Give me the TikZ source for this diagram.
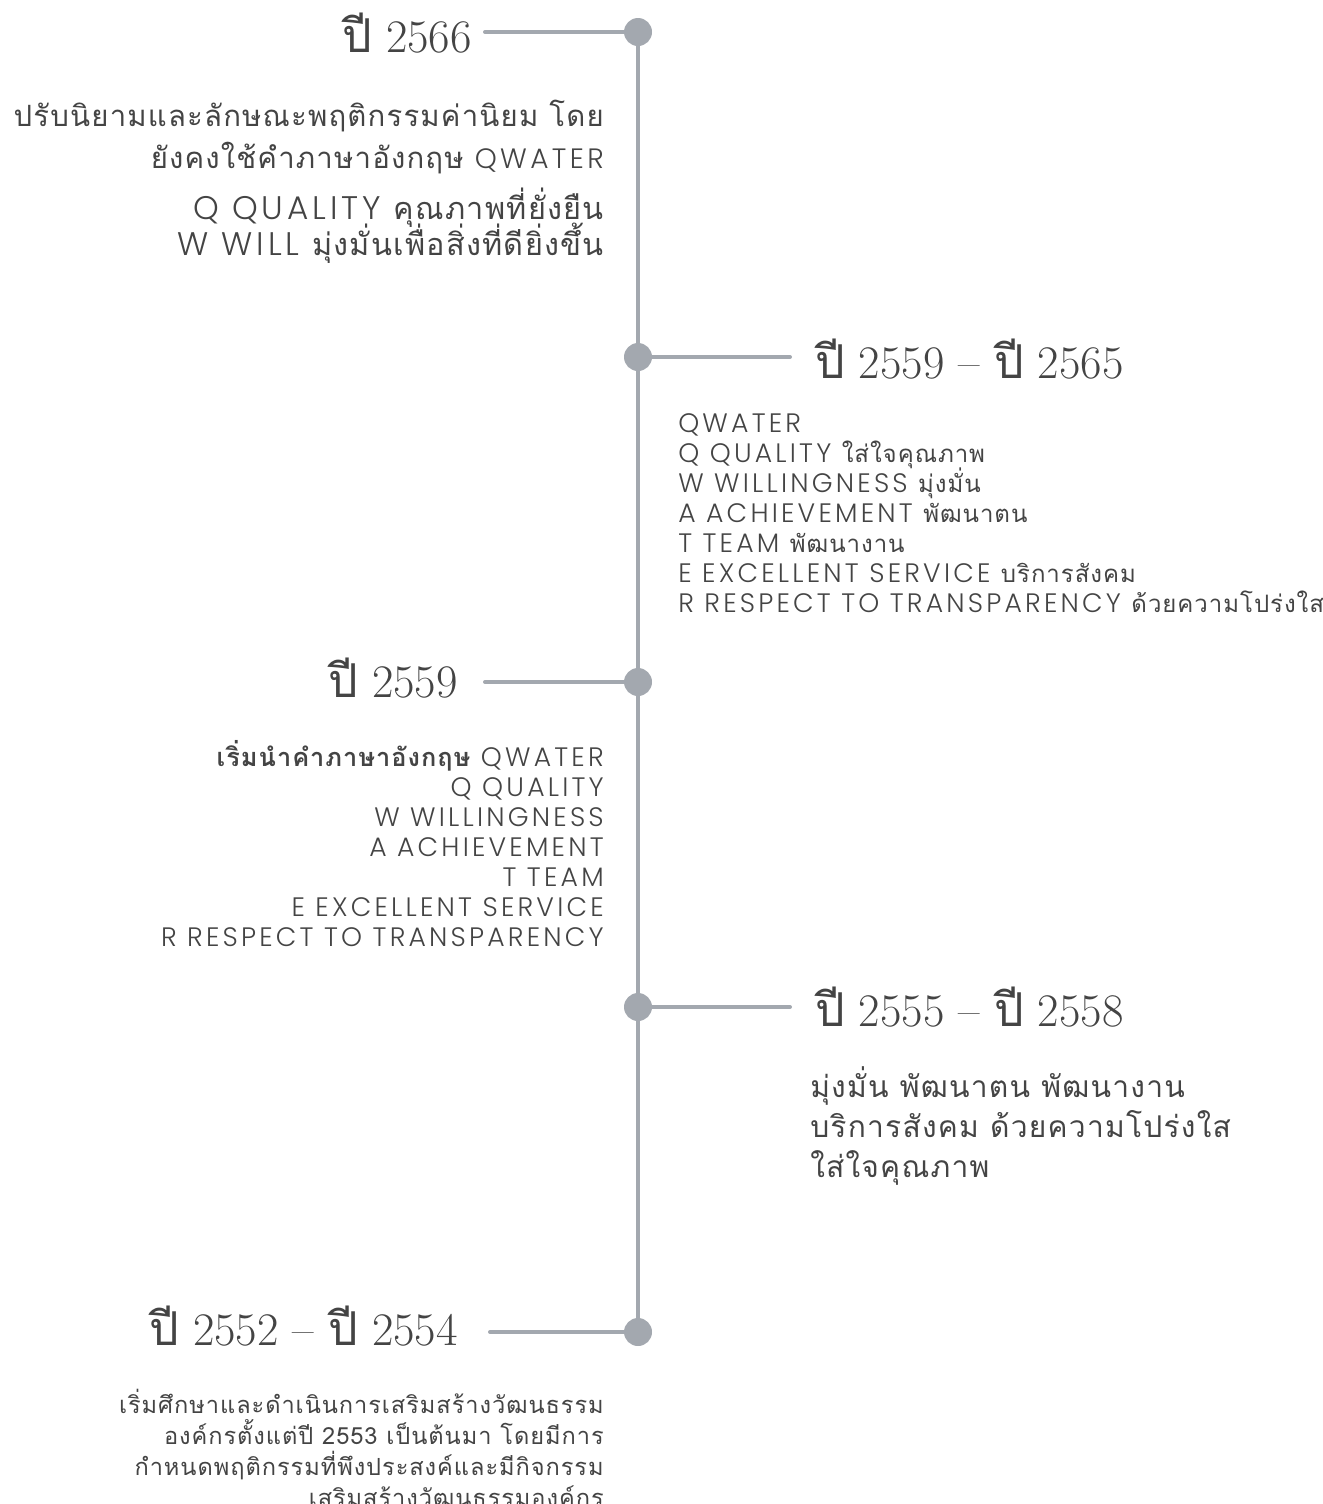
\documentclass[tikz,border=0pt]{standalone}
\usepackage{fontspec}
\newfontfamily\latbody{Poppins Light}[LetterSpace=12]
\newfontfamily\tha[Script=Thai,LetterSpace=4]{Loma}
\newfontfamily\thahead[Script=Thai]{Loma}
\usetikzlibrary{positioning,backgrounds}
\definecolor{tlgray}{HTML}{A3A8AF}
\definecolor{tltext}{HTML}{444444}
\setlength{\lineskiplimit}{-100pt}
\newcommand{\thtxt}[1]{{\tha #1}}
\newcommand{\thbig}[1]{{\tha\fontsize{22}{22}\selectfont #1}}
\newcommand{\pee}{{\thahead ปี}}
\tikzset{
    timeline/.style={
        % Stile per la linea del tempo
        spine/.style={draw=tlgray, line width=3pt},
        branch/.style={draw=tlgray, line width=3pt, line cap=round},
        yeardot/.style={circle, fill=tlgray, minimum size=21pt, inner sep=0pt},
        % Stile per gli anni
        yearhead/.style={font=\fontsize{35}{40}\selectfont, text=tltext,
                         inner sep=0pt},
        % Stile per i testi
        bodyright/.style={align=right, text=tltext, inner sep=0pt,
                          font=\latbody\fontsize{20}{22.5}\selectfont},
        bodyleft/.style={align=left, text=tltext, inner sep=0pt,
                         font=\latbody\fontsize{20}{22.5}\selectfont}
    }
}
\begin{document}
\begin{tikzpicture}[timeline, x=0.75pt, y=-0.75pt]
    \useasboundingbox (0,0) rectangle (1322,1504);
    % punti sulla linea
    \node[yeardot] (d2566) at (638,32) {};
    \node[yeardot] (d2559b) at (638,357) {};
    \node[yeardot] (d2559) at (638,682) {};
    \node[yeardot] (d2555) at (638,1007) {};
    \node[yeardot] (d2552) at (638,1332) {};
    \coordinate (e2566) at (485,32);
    \coordinate (e2559b) at (790,357);
    \coordinate (e2559) at (485,682);
    \coordinate (e2555) at (790,1007);
    \coordinate (e2552) at (490,1332);
    \begin{pgfonlayer}{background}
        \draw[spine] (d2566.center) -- (d2552.center);
        \foreach \y in {2566,2559b,2559,2555,2552}
            \draw[branch] (d\y.center) -- (e\y);
    \end{pgfonlayer}
    % anni
    \node[yearhead, anchor=base east] (y2566) at (472,52) {\pee\ 2566};
    \node[yearhead, anchor=base west] (y2559b) at (815,378) {\pee\ 2559 -- \pee\ 2565};
    \node[yearhead, anchor=base east] (y2559) at (458,697) {\pee\ 2559};
    \node[yearhead, anchor=base west] (y2555) at (815,1026) {\pee\ 2555 -- \pee\ 2558};
    \node[yearhead, anchor=base east] (y2552) at (458,1345) {\pee\ 2552 -- \pee\ 2554};
    % testi (base = ultima riga)
    \node[bodyright, anchor=base east, font=\latbody\fontsize{21}{31.5}\selectfont]
        (t2566a) at (604,168)
        {\thbig{ปรับนิยามและลักษณะพฤติกรรมค่านิยม โดย}\\
         \thbig{ยังคงใช้คำภาษาอังกฤษ} QWATER};
    \node[bodyright, anchor=base east, font=\latbody\fontsize{24.5}{27}\selectfont]
        (t2566b) at (604,255)
        {Q QUALITY \thtxt{\fontsize{23}{23}\selectfont คุณภาพที่ยั่งยืน}\\
         W WILL \thtxt{\fontsize{23}{23}\selectfont มุ่งมั่นเพื่อสิ่งที่ดียิ่งขึ้น}};
    \node[bodyleft, anchor=base west] (t2559b) at (678,612)
        {QWATER\\
         Q QUALITY \thtxt{\fontsize{18}{18}\selectfont ใส่ใจคุณภาพ}\\
         W WILLINGNESS \thtxt{\fontsize{18}{18}\selectfont มุ่งมั่น}\\
         A ACHIEVEMENT \thtxt{\fontsize{18}{18}\selectfont พัฒนาตน}\\
         T TEAM \thtxt{\fontsize{18}{18}\selectfont พัฒนางาน}\\
         E EXCELLENT SERVICE \thtxt{\fontsize{18}{18}\selectfont บริการสังคม}\\
         R RESPECT TO TRANSPARENCY \thtxt{\fontsize{18}{18}\selectfont ด้วยความโปร่งใส}};
    \node[bodyright, anchor=base east] (t2559) at (604,946)
        {\thtxt{\bfseries\fontsize{19}{19}\selectfont เริ่มนำคำภาษาอังกฤษ} QWATER\ \\
         Q QUALITY\ \\
         W WILLINGNESS\\
         A ACHIEVEMENT\\
         T TEAM\\
         E EXCELLENT SERVICE\\
         R RESPECT TO TRANSPARENCY};
    \node[bodyleft, anchor=base west, font=\tha\fontsize{22.5}{30}\selectfont]
        (t2555) at (810,1177)
        {\thtxt{มุ่งมั่น พัฒนาตน พัฒนางาน}\\
         \thtxt{บริการสังคม ด้วยความโปร่งใส}\\
         \thtxt{ใส่ใจคุณภาพ}};
    \node[bodyright, anchor=base east, font=\tha\fontsize{17.7}{23.25}\selectfont]
        (t2552) at (604,1506)
        {\thtxt{เริ่มศึกษาและดำเนินการเสริมสร้างวัฒนธรรม}\\
         \thtxt{องค์กรตั้งแต่ปี 2553 เป็นต้นมา โดยมีการ}\\
         \thtxt{กำหนดพฤติกรรมที่พึงประสงค์และมีกิจกรรม}\\
         \thtxt{เสริมสร้างวัฒนธรรมองค์กร}};
\end{tikzpicture}
\end{document}
